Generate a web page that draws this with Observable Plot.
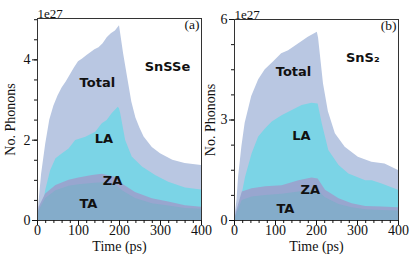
<!DOCTYPE html>
<html>
<head>
<meta charset="utf-8">
<script src="https://cdn.jsdelivr.net/npm/d3@7"></script>
<script src="https://cdn.jsdelivr.net/npm/@observablehq/plot@0.6"></script>
<style>
  html, body { margin: 0; padding: 0; background: #fff; }
  #wrap { position: relative; width: 416px; height: 263px; overflow: hidden; }
  #wrap svg { position: absolute; top: 0; overflow: visible; }
  #wrap svg text { font-family: "Liberation Serif", serif; }
  #wrap svg g[aria-label="x-axis tick label"] text { font-size: 14px; }
  #wrap svg g[aria-label="y-axis tick label"] text { font-size: 14px; }
  #wrap svg g[aria-label="y-axis label"] text { font-size: 14px; }
  #wrap svg g[aria-label="x-axis label"] text { font-size: 14px; }
  #wrap svg g.tag text { font-size: 13.5px; }
  #wrap svg g.lbl text { font-family: "DejaVu Sans", sans-serif; font-size: 13px; font-weight: bold; }
</style>
</head>
<body>
<div id="wrap"></div>
<script>
// ---------- Panel (a): SnSSe (units of 1e27) ----------
const tTotalA = [0,5,10,20,30,40,50,60,70,80,90,100,110,120,130,140,150,160,170,180,190,200,205,210,220,230,240,250,260,280,300,330,360,400];
const totalA  = [0,0.6,1.15,1.9,2.5,2.85,3.1,3.3,3.45,3.62,3.8,3.95,4.02,4.1,4.18,4.25,4.3,4.4,4.55,4.65,4.72,4.85,4.5,4.15,3.55,2.95,2.55,2.3,2.08,1.82,1.66,1.5,1.42,1.37];
const tLAA = [0,5,12,20,32,45,61,77,93,118,142,158,170,182,197,200,203,215,231,256,288,320,361,400];
const laA  = [0,0.08,0.25,0.75,1.24,1.54,1.66,1.78,1.99,2.07,2.2,2.41,2.49,2.66,2.82,2.78,2.66,1.99,1.58,1.33,1.12,0.95,0.81,0.76];
const tZAA = [0,4,20,45,77,101,134,158,190,207,239,280,320,361,400];
const zaA  = [0,0.33,0.66,0.87,1.0,1.06,1.12,1.15,1.08,0.91,0.7,0.54,0.46,0.37,0.33];
const taA  = [0,0.25,0.55,0.74,0.85,0.89,0.92,0.94,0.9,0.74,0.55,0.42,0.36,0.3,0.28];

// ---------- Panel (b): SnS2 (units of 1e27) ----------
const tTotalB = [0,6,10,18,26,42,59,75,95,115,132,156,180,202,205,217,229,246,270,302,335,367,400];
const totalB  = [0,0.6,1.3,2.2,2.9,3.7,4.2,4.5,4.73,4.98,5.07,5.27,5.47,5.62,5.45,4.08,3.25,2.59,2.19,1.89,1.74,1.69,1.49];
const tLAB = [0,5,11,27,43,59,76,92,116,141,165,189,204,214,230,255,279,320,336,360,400];
const laB  = [0,0.05,0.3,1.29,1.99,2.49,2.74,2.94,3.13,3.28,3.43,3.5,3.48,2.89,2.09,1.64,1.39,1.19,1.19,1.09,0.9];
const tZAB = [0,6,19,43,76,116,157,189,204,222,255,287,320,360,400];
const zaB  = [0,0.3,0.85,0.95,1.01,1.04,1.19,1.27,1.24,0.9,0.65,0.5,0.42,0.4,0.38];
const taB  = [0,0.22,0.6,0.7,0.75,0.78,0.85,0.9,0.88,0.68,0.48,0.38,0.32,0.3,0.28];

const xTicks = [0,100,200,300,400];
const yTicksA = [0,2,4];
const yTicksB = [0,3,6];

const colors = {Total: "#b9c7e2", LA: "#7bd4e6", ZA: "#98a6cf", TA: "#84acca"};

function zip(t, v) { return t.map((x, i) => ({t: x, v: v[i]})); }

function panel(o) {
  const series = [
    ["Total", zip(o.tTotal, o.total)],
    ["LA", zip(o.tLA, o.la)],
    ["ZA", zip(o.tZA, o.za)],
    ["TA", zip(o.tZA, o.ta)]
  ];
  const ymax = o.ydomain[1];
  return Plot.plot({
    width: o.width, height: 263,
    marginLeft: o.ml, marginRight: o.mr, marginTop: o.mt, marginBottom: 43,
    style: {fontFamily: "Liberation Serif", fontSize: "13px", color: "#111", background: "transparent"},
    x: {domain: [0, 400]},
    y: {domain: o.ydomain},
    marks: [
      ...series.map(([name, d]) => Plot.areaY(d, {x: "t", y: "v", fill: colors[name], curve: "linear"})),
      Plot.frame({stroke: "#333", strokeWidth: 1}),
      Plot.axisY({ticks: d3.range(0, ymax + 1e-9, o.minorY), tickSize: 3, tickFormat: () => "", label: null}),
      Plot.axisY({ticks: o.yTicks, tickSize: 5, tickPadding: 2, tickFormat: d => String(d),
                  label: "No. Phonons", labelAnchor: "center", labelArrow: "none", labelOffset: o.labelOffsetY}),
      Plot.axisX({ticks: d3.range(0, 401, 20), tickSize: 3, tickFormat: () => "", label: null}),
      Plot.axisX({ticks: xTicks, tickSize: 5, tickPadding: 0, tickFormat: d => String(d),
                  label: "Time (ps)", labelAnchor: "center", labelArrow: "none", labelOffset: 30}),
      Plot.text(["1e27"], {frameAnchor: "top-left", textAnchor: "start", lineAnchor: "bottom", dy: -1, fontSize: 13}),
      Plot.text([o.tag], {frameAnchor: "top-right", textAnchor: "end", lineAnchor: "top", dx: -2, dy: 1, className: "tag"}),
      Plot.text(o.labels, {x: "t", y: "v", text: "name", fill: "#111", className: "lbl"})
    ]
  });
}

const labelsA = [
  {name: "Total", t: 146, v: 3.44},
  {name: "LA", t: 162, v: 2.04},
  {name: "ZA", t: 183, v: 1.0},
  {name: "TA", t: 124, v: 0.42},
  {name: "SnSSe", t: 317, v: 3.82}
];
const labelsB = [
  {name: "Total", t: 144, v: 4.45},
  {name: "LA", t: 163, v: 2.54},
  {name: "ZA", t: 185, v: 0.93},
  {name: "TA", t: 124, v: 0.36},
  {name: "SnS₂", t: 313, v: 4.87}
];

const a = panel({tTotal: tTotalA, total: totalA, tLA: tLAA, la: laA, tZA: tZAA, za: zaA, ta: taA,
  width: 208, ml: 37, mr: 7, mt: 18, ydomain: [0, 5.03], yTicks: yTicksA, minorY: 0.5,
  labelOffsetY: 32, tag: "(a)", labels: labelsA});
const b = panel({tTotal: tTotalB, total: totalB, tLA: tLAB, la: laB, tZA: tZAB, za: zaB, ta: taB,
  width: 216, ml: 34, mr: 18, mt: 19, ydomain: [0, 6], yTicks: yTicksB, minorY: 0.75,
  labelOffsetY: 29, tag: "(b)", labels: labelsB});
a.style.left = "0px";
b.style.left = "200px";
const wrap = document.getElementById("wrap");
wrap.appendChild(a);
wrap.appendChild(b);
</script>
</body>
</html>
